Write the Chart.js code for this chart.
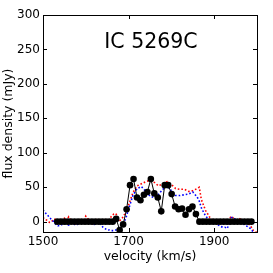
<!DOCTYPE html>
<html>
<head>
<meta charset="utf-8">
<script src="https://cdn.jsdelivr.net/npm/chart.js@4/dist/chart.umd.min.js"></script>
<style>
  html, body { margin: 0; padding: 0; background: #fff; }
  #wrap { width: 273px; height: 273px; }
</style>
</head>
<body>
<div id="wrap"><canvas id="spec" width="273" height="273"></canvas></div>
<script>
const galaxyName = 'IC 5269C';

// observed channels (km/s) and flux (mJy)
const obsVel = [
  1533.3, 1541.4, 1549.5, 1557.6, 1565.7, 1573.8, 1581.9, 1590.0, 1598.1, 1606.2,
  1614.3, 1622.4, 1630.5, 1638.6, 1646.7, 1654.8, 1662.9, 1671.0, 1679.1, 1687.2,
  1695.3, 1703.4, 1711.5, 1719.6, 1727.7, 1735.8, 1743.9, 1752.0, 1760.1, 1768.2,
  1776.3, 1784.4, 1792.5, 1800.6, 1808.7, 1816.8, 1824.9, 1833.0, 1841.1, 1849.2,
  1857.3, 1865.4, 1873.5, 1881.6, 1889.7, 1897.8, 1905.9, 1914.0, 1922.1, 1930.2,
  1938.3, 1946.4, 1954.5, 1962.6, 1970.7, 1978.8, 1986.9
];
const obsFlux = [
  0, 0, 0, 0, 0, 0, 0, 0, 0, 0,
  0, 0, 0, 0, 0, 0, 0, 4, -12, -4,
  18, 53, 62, 35, 31, 39, 43, 62, 41, 35,
  15, 53, 53, 40, 22, 18, 19, 10, 18, 22,
  11, 0, 0, 0, 0, 0, 0, 0, 0, 0,
  0, 0, 0, 0, 0, 0, 0
];

// comparison spectra (dotted)
const cmpVel = [
  1500, 1505, 1510, 1515, 1520, 1525, 1530, 1535, 1540, 1545,
  1550, 1555, 1560, 1565, 1570, 1575, 1580, 1585, 1590, 1595,
  1600, 1605, 1610, 1615, 1620, 1625, 1630, 1635, 1640, 1645,
  1650, 1655, 1660, 1665, 1670, 1675, 1680, 1685, 1690, 1695,
  1700, 1710, 1720, 1730, 1740, 1750, 1760, 1770, 1780, 1790,
  1800, 1810, 1820, 1830, 1840, 1850, 1860, 1865, 1870, 1880, 1890,
  1895, 1900, 1905, 1910, 1915, 1920, 1925, 1930, 1935, 1940,
  1945, 1950, 1955, 1960, 1965, 1970, 1975, 1980, 1985, 1990, 1995, 2000
];
const redFlux = [
  6, 3, 2, -1, 0, 4, 3, -2, -2, 4,
  5, 1, 7, 2, 1, -3, -3, 3, 2, -1,
  8, 4, 3, -3, -4, 3, 4, -1, 0, 5,
  -2, 3, 8, 11, 12, 6, 2, 5, 10, 16,
  24, 42, 52, 55, 58, 60, 57, 52, 55, 58,
  54, 48, 47, 47, 44, 45, 48, 50, 32, 16, 6,
  3, 1, -3, -2, 3, 2, -4, -3, 4, 8,
  5, 2, -1, 4, 2, 0, -2, -3, -6, -12, -14, -16
];
const blueFlux = [
  17, 13, 10, 6, 3, 0, -4, -6, -6, -4,
  -3, -4, -5, -2, -2, -5, -4, -1, 0, -2,
  -3, 0, 2, -3, -4, -2, -1, -4, -8, -10,
  -12, -12, -13, -13, -12, -11, -10, -6, 0, 8,
  18, 38, 48, 51, 44, 37, 35, 40, 47, 52,
  45, 38, 38, 39, 40, 43, 36, 30, 20, 8, 2,
  0, -2, -3, -5, -7, -8, -8, -10, -4, 6,
  6, 3, 0, -2, -3, -4, -6, -8, -10, -14, -16, -18
];

const xTicks = [1500, 1700, 1900];
const yTicks = [0, 50, 100, 150, 200, 250, 300];

function pairs(xs, ys) {
  return xs.map((x, i) => ({ x: x, y: ys[i] }));
}

const fontFam = '"DejaVu Sans", sans-serif';

// frame, inward tick marks and the galaxy name
const framePlugin = {
  id: 'frame',
  afterDatasetsDraw(chart) {
    const ctx = chart.ctx;
    const a = chart.chartArea;
    const xs = chart.scales.x, ys = chart.scales.y;
    ctx.save();
    ctx.strokeStyle = '#000';
    ctx.lineWidth = 1;
    ctx.beginPath();
    xs.ticks.forEach(t => {
      const px = Math.round(xs.getPixelForValue(t.value)) + 0.5;
      ctx.moveTo(px, a.bottom); ctx.lineTo(px, a.bottom - 4);
      ctx.moveTo(px, a.top); ctx.lineTo(px, a.top + 4);
    });
    ys.ticks.forEach(t => {
      const py = Math.round(ys.getPixelForValue(t.value)) + 0.5;
      ctx.moveTo(a.left, py); ctx.lineTo(a.left + 4, py);
      ctx.moveTo(a.right, py); ctx.lineTo(a.right - 4, py);
    });
    ctx.stroke();
    ctx.strokeRect(Math.round(a.left) + 0.5, Math.round(a.top) + 0.5,
                   Math.round(a.right - a.left), Math.round(a.bottom - a.top));
    ctx.fillStyle = '#000';
    ctx.font = '20.5px ' + fontFam;
    ctx.textAlign = 'center';
    ctx.textBaseline = 'alphabetic';
    ctx.fillText(galaxyName, (a.left + a.right) / 2 + 1, a.top + 32.5);
    ctx.restore();
  }
};

new Chart(document.getElementById('spec'), {
  type: 'line',
  data: {
    datasets: [
      {
        data: pairs(obsVel, obsFlux),
        borderColor: '#000',
        backgroundColor: '#000',
        borderWidth: 1,
        pointRadius: 3.3,
        pointHoverRadius: 3.3,
        pointBorderWidth: 0,
        tension: 0,
        clip: 0
      },
      {
        data: pairs(cmpVel, blueFlux),
        borderColor: '#0000ff',
        borderWidth: 1.6,
        borderDash: [1.6, 2],
        pointRadius: 0,
        tension: 0,
        clip: 0
      },
      {
        data: pairs(cmpVel, redFlux),
        borderColor: '#ff0000',
        borderWidth: 1.6,
        borderDash: [1.6, 2],
        pointRadius: 0,
        tension: 0,
        clip: 0
      }
    ]
  },
  options: {
    responsive: false,
    animation: false,
    events: [],
    layout: { padding: { left: 0, top: 15, right: 16, bottom: 0 } },
    plugins: { legend: { display: false }, tooltip: { enabled: false } },
    scales: {
      x: {
        type: 'linear',
        min: 1500,
        max: 2000,
        afterBuildTicks: s => { s.ticks = xTicks.map(v => ({ value: v })); },
        afterFit: s => { s.height = 41; },
        grid: { display: false, drawTicks: false },
        border: { display: false },
        ticks: {
          color: '#000', padding: 3, maxRotation: 0,
          callback: v => String(v),
          font: { family: fontFam, size: 12 }
        },
        title: {
          display: true,
          text: 'velocity (km/s)',
          color: '#000',
          padding: { top: 0, bottom: 9 },
          font: { family: fontFam, size: 12.5 }
        }
      },
      y: {
        type: 'linear',
        min: -15,
        max: 300,
        afterBuildTicks: s => { s.ticks = yTicks.map(v => ({ value: v })); },
        afterFit: s => { s.width = 43; },
        grid: { display: false, drawTicks: false },
        border: { display: false },
        ticks: {
          color: '#000', padding: 3,
          callback: v => String(v),
          font: { family: fontFam, size: 12 }
        },
        title: {
          display: true,
          text: 'flux density (mJy)',
          color: '#000',
          padding: { top: 1, bottom: 0 },
          font: { family: fontFam, size: 12.5 }
        }
      }
    }
  },
  plugins: [framePlugin]
});
</script>
</body>
</html>
